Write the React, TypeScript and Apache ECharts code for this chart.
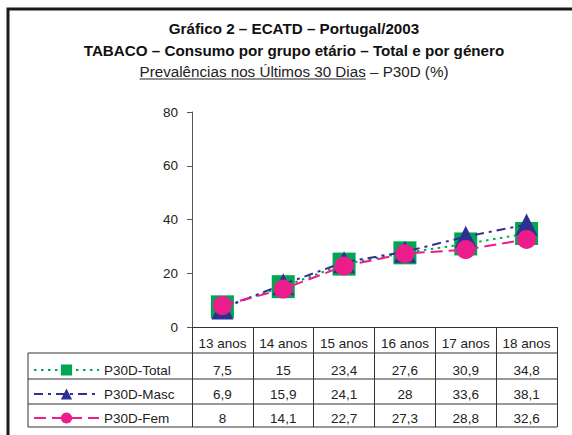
import React, { useEffect, useRef } from 'react';
import * as echarts from 'echarts';

const titleLine1 = 'Gráfico 2 – ECATD – Portugal/2003';
const titleLine2 = 'TABACO – Consumo por grupo etário – Total e por género';
const titleLine3a = 'Prevalências nos Últimos 30 Dias';
const titleLine3b = ' – P30D (%)';

const categories = ['13 anos', '14 anos', '15 anos', '16 anos', '17 anos', '18 anos'];
const seriesNames = ['P30D-Total', 'P30D-Masc', 'P30D-Fem'];
const totalValues = [7.5, 15, 23.4, 27.6, 30.9, 34.8];
const mascValues = [6.9, 15.9, 24.1, 28, 33.6, 38.1];
const femValues = [8, 14.1, 22.7, 27.3, 28.8, 32.6];
const yMin = 0;
const yMax = 80;
const yInterval = 20;

const FONT = '"Liberation Sans", Arial, Helvetica, sans-serif';
const TITLE_SIZE = 15.2;
const fmt = (v: number) => String(v).replace('.', ',');

export default function App() {
  const ref = useRef<HTMLDivElement>(null);
  useEffect(() => {
    if (!ref.current) return;
    const chart = echarts.init(ref.current, undefined, { renderer: 'svg' });

    const ctx = document.createElement('canvas').getContext('2d')!;
    ctx.font = `${TITLE_SIZE}px ${FONT}`;
    const w1 = ctx.measureText(titleLine3a).width;
    const w2 = ctx.measureText(titleLine3b).width;
    const cx = 294;
    const start3 = cx - (w1 + w2) / 2;

    const dark = '#333';
    const allValues = [totalValues, mascValues, femValues];
    const rowOffsets = [27, 51, 75];

    const valueAxes = allValues.map((vals, i) => ({
      type: 'category' as const,
      data: categories,
      position: 'bottom' as const,
      offset: rowOffsets[i],
      axisLine: { show: false },
      axisTick: { show: false },
      axisLabel: {
        interval: 0,
        margin: 9,
        fontSize: 13.5,
        fontFamily: FONT,
        color: '#222',
        formatter: (_v: string, idx: number) => fmt(vals[idx]),
      },
    }));

    const hLine = (y: number, x1: number, x2: number) => ({
      type: 'line',
      shape: { x1, y1: y, x2, y2: y },
      style: { stroke: dark, lineWidth: 1 },
      silent: true,
    });

    chart.setOption({
      animation: false,
      backgroundColor: '#fff',
      grid: { left: 192, right: 15, top: 112, bottom: 108, containLabel: false },
      legend: {
        orient: 'vertical',
        left: 33,
        top: 363,
        padding: 0,
        itemWidth: 65,
        itemHeight: 14,
        itemGap: 10,
        selectedMode: false,
        textStyle: { fontSize: 13.5, fontFamily: FONT, color: '#222' },
        data: seriesNames,
      },
      xAxis: [
        {
          type: 'category',
          data: categories,
          boundaryGap: true,
          axisLine: { show: true, lineStyle: { color: dark, width: 1 } },
          axisTick: { show: true, interval: 0, length: 100, lineStyle: { color: dark, width: 1 } },
          axisLabel: { interval: 0, margin: 9, fontSize: 13.5, fontFamily: FONT, color: '#222' },
          splitLine: { show: false },
        },
        ...valueAxes,
      ],
      yAxis: {
        type: 'value',
        min: yMin,
        max: yMax,
        interval: yInterval,
        axisLine: { show: true, lineStyle: { color: '#555', width: 1 } },
        axisTick: { show: true, length: 5, lineStyle: { color: '#555' } },
        axisLabel: { margin: 14, fontSize: 13.5, fontFamily: FONT, color: '#222' },
        splitLine: { show: false },
      },
      series: [
        {
          name: seriesNames[0],
          type: 'line',
          data: totalValues,
          symbol: 'rect',
          symbolSize: 23,
          color: '#00a651',
          lineStyle: { color: '#00a651', width: 2, type: [2.5, 4.5] },
          itemStyle: { color: '#00a651' },
          z: 2,
        },
        {
          name: seriesNames[1],
          type: 'line',
          data: mascValues,
          symbol: 'triangle',
          symbolSize: 22,
          color: '#2e3192',
          lineStyle: { color: '#2e3192', width: 2, type: [9, 5, 3, 5] },
          itemStyle: { color: '#2e3192' },
          z: 3,
        },
        {
          name: seriesNames[2],
          type: 'line',
          data: femValues,
          symbol: 'circle',
          symbolSize: 19,
          color: '#ec1c8c',
          lineStyle: { color: '#ec1c8c', width: 2, type: [12, 6] },
          itemStyle: { color: '#ec1c8c' },
          z: 4,
        },
      ],
      graphic: [
        {
          type: 'polyline',
          shape: { points: [[8, 440], [8, 9], [580, 9]] },
          style: { stroke: '#1a1a1a', lineWidth: 3, fill: 'none' },
          silent: true,
        },
        {
          type: 'text', x: cx, y: 28,
          style: { text: titleLine1, fontSize: TITLE_SIZE, fontWeight: 'bold', fontFamily: FONT, fill: '#111', align: 'center', verticalAlign: 'middle' },
        },
        {
          type: 'text', x: cx, y: 50,
          style: { text: titleLine2, fontSize: TITLE_SIZE, fontWeight: 'bold', fontFamily: FONT, fill: '#111', align: 'center', verticalAlign: 'middle' },
        },
        {
          type: 'text', x: start3, y: 71.5,
          style: { text: titleLine3a + titleLine3b, fontSize: TITLE_SIZE, fontFamily: FONT, fill: '#222', align: 'left', verticalAlign: 'middle' },
        },
        {
          type: 'line',
          shape: { x1: start3, y1: 79, x2: start3 + w1, y2: 79 },
          style: { stroke: '#222', lineWidth: 1 },
          silent: true,
        },
        hLine(353, 28, 557),
        hLine(379, 28, 557),
        hLine(404, 28, 557),
        hLine(427, 28, 557),
        {
          type: 'line',
          shape: { x1: 28, y1: 353, x2: 28, y2: 427 },
          style: { stroke: dark, lineWidth: 1 },
          silent: true,
        },
      ],
    });
    return () => chart.dispose();
  }, []);
  return <div ref={ref} style={{ position: 'fixed', left: 0, top: 0, width: 572, height: 435 }} />;
}
